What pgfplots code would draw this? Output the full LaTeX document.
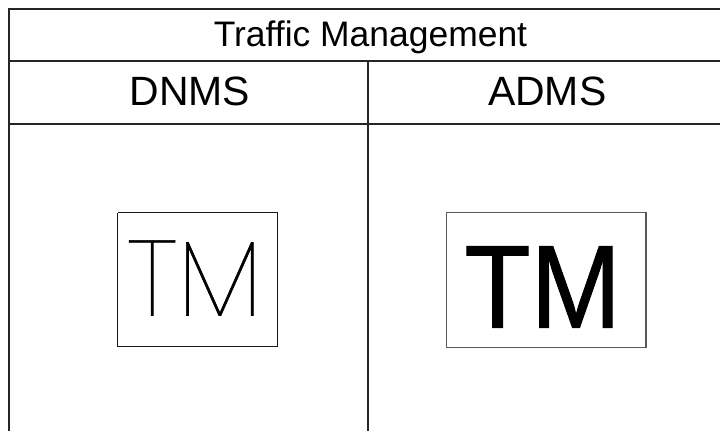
\documentclass[border=0pt]{standalone}
\usepackage{pgfplots}
\pgfplotsset{compat=1.18}
\usepackage{fontspec}
\setmainfont{Liberation Sans}
\newfontfamily\thinfont{Poppins Thin}[FakeBold=0.6]
\newfontfamily\tmfont{Liberation Sans}[FakeBold=0.8, FakeStretch=0.92]
\begin{document}
\begin{tikzpicture}
\begin{axis}[
  scale only axis, width=721pt, height=432pt,
  xmin=0, xmax=721, ymin=0, ymax=432,
  hide axis, clip=false,
]
% frame for bounding box
\addplot[draw=none, forget plot] coordinates {(0,0) (721,432)};
% table rules
\addplot[black!85, line width=2pt] coordinates {(9,423) (721,423)};
\addplot[black!85, line width=2pt] coordinates {(9,424) (9,0)};
\addplot[black!85, line width=2pt] coordinates {(9,371) (721,371)};
\addplot[black!85, line width=2pt] coordinates {(9,308) (721,308)};
\addplot[black!85, line width=2pt] coordinates {(369,371) (369,0)};
% image boxes
\addplot[black!90, line width=1.3pt] coordinates {(118,219) (278,219) (278,85) (118,85) (118,219)};
\addplot[black!65, line width=1.4pt] coordinates {(447,219) (647,219) (647,84) (447,84) (447,219)};
% texts
\node[anchor=base, font=\fontsize{35.5}{40}\selectfont, inner sep=0pt] at (axis cs:371,385) {Traffic Management};
\node[anchor=base, font=\fontsize{41}{46}\selectfont, inner sep=0pt] at (axis cs:190,326) {DNMS};
\node[anchor=base, font=\fontsize{41}{46}\selectfont, inner sep=0pt] at (axis cs:548,326) {ADMS};
\node[anchor=base, font=\thinfont\fontsize{107}{110}\selectfont, inner sep=0pt] at (axis cs:195,116) {TM};
\node[anchor=base, font=\tmfont\fontsize{118}{120}\selectfont, inner sep=0pt] at (axis cs:543.5,104) {TM};
\end{axis}
\end{tikzpicture}
\end{document}
